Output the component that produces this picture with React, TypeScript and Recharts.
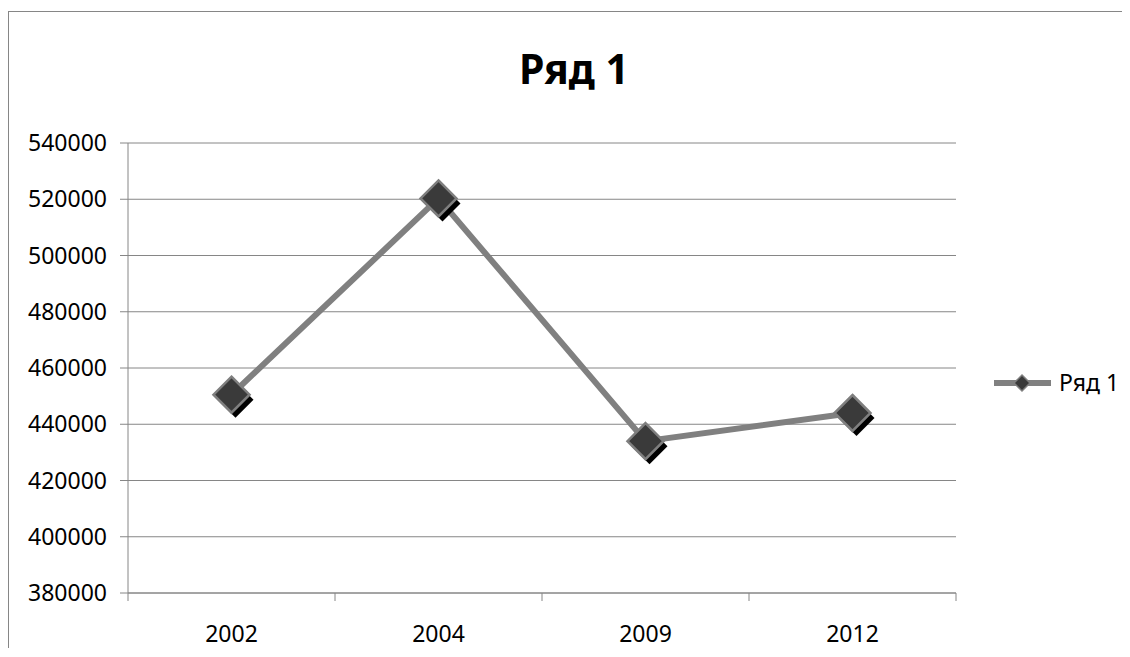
import { LineChart, Line, XAxis, YAxis, CartesianGrid, Legend } from 'recharts';

const years = ['2002', '2004', '2009', '2012'];
const values = [450500, 520300, 434000, 444000];
const yTicks = [380000, 400000, 420000, 440000, 460000, 480000, 500000, 520000, 540000];
const seriesName = 'Ряд 1';

const data = years.map((y, i) => ({ year: y, value: values[i] }));

const FONT = '"Noto Sans", "Open Sans", sans-serif';
const GRAY = '#868686';
const HALF_BAND = 103.5;

const Diamond = (props: any) => {
  const { cx, cy } = props;
  if (cx == null || cy == null) return null;
  const r = 18;
  const pts = (dx: number, dy: number) =>
    `${cx + dx},${cy - r + dy} ${cx + r + dx},${cy + dy} ${cx + dx},${cy + r + dy} ${cx - r + dx},${cy + dy}`;
  return (
    <g>
      <polygon points={pts(4, 5)} fill="#000" />
      <polygon points={pts(0, 0)} fill="#3a3a3a" stroke="#7f7f7f" strokeWidth={2.5} />
    </g>
  );
};

const XTick = (props: any) => {
  const { x, y, index, visibleTicksCount, payload } = props;
  return (
    <g>
      <line x1={x - HALF_BAND} x2={x - HALF_BAND} y1={y} y2={y + 8} stroke={GRAY} />
      {index === visibleTicksCount - 1 && (
        <line x1={x + HALF_BAND} x2={x + HALF_BAND} y1={y} y2={y + 8} stroke={GRAY} />
      )}
      <text x={x} y={y + 49} textAnchor="middle" fontSize={23} fontFamily={FONT} fill="#000">
        {payload.value}
      </text>
    </g>
  );
};

const LegendBox = () => (
  <svg width={173} height={30} style={{ overflow: 'visible', display: 'block' }}>
    <line x1={38} x2={95} y1={15} y2={15} stroke="#808080" strokeWidth={6} />
    <polygon points="66,7 74,15 66,23 58,15" fill="#3a3a3a" stroke="#7f7f7f" strokeWidth={1.5} />
    <text x={103} y={23} fontSize={23} fontFamily={FONT} fill="#000">
      {seriesName}
    </text>
  </svg>
);

export default function App() {
  return (
    <div
      style={{
        position: 'relative',
        marginTop: 3,
        width: 1122,
        height: 637,
        borderTop: `1px solid ${GRAY}`,
        borderLeft: `1px solid ${GRAY}`,
        background: '#fff',
        boxSizing: 'border-box',
        overflow: 'hidden',
      }}
    >
      <div
        style={{
          position: 'absolute',
          left: 65,
          width: 1000,
          top: 36,
          textAlign: 'center',
          fontFamily: FONT,
          fontWeight: 700,
          fontSize: 41,
          lineHeight: 1,
          color: '#000',
        }}
      >
        {seriesName}
      </div>
      <LineChart width={1120} height={636} data={data} margin={{ top: 131, right: 0, left: 0, bottom: 0 }}>
        <CartesianGrid vertical={false} stroke={GRAY} />
        <XAxis
          dataKey="year"
          height={55}
          padding={{ left: HALF_BAND, right: HALF_BAND }}
          axisLine={{ stroke: GRAY }}
          tickLine={false}
          tickSize={0}
          tickMargin={0}
          tick={<XTick />}
          interval={0}
        />
        <YAxis
          width={119}
          domain={[380000, 540000]}
          ticks={yTicks}
          interval={0}
          axisLine={{ stroke: GRAY }}
          tickLine={{ stroke: GRAY }}
          tickSize={8}
          tickMargin={13}
          tick={{ fontSize: 23, fontFamily: FONT, fill: '#000' }}
        />
        <Legend
          layout="vertical"
          align="right"
          verticalAlign="middle"
          content={<LegendBox />}
          wrapperStyle={{ top: 356, width: 173, height: 30 }}
        />
        <Line
          dataKey="value"
          name={seriesName}
          stroke="#808080"
          strokeWidth={6}
          dot={<Diamond />}
          activeDot={false}
          isAnimationActive={false}
        />
      </LineChart>
    </div>
  );
}
